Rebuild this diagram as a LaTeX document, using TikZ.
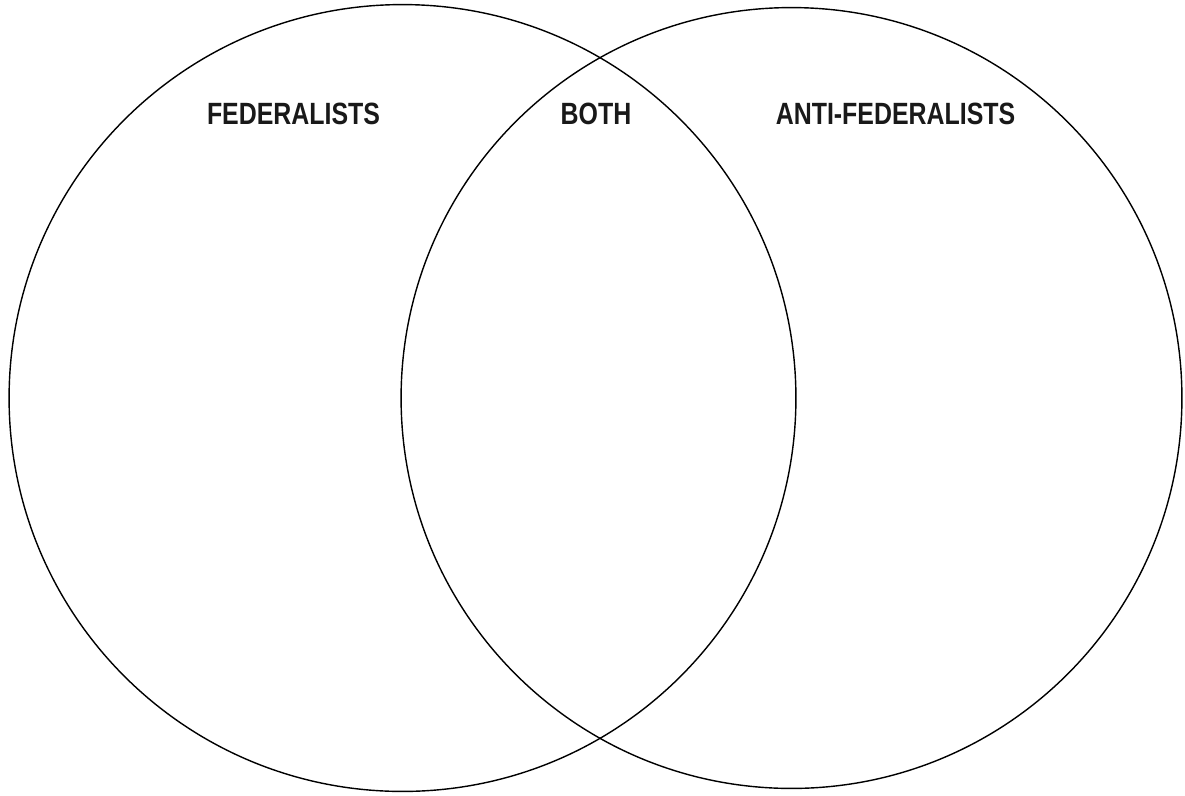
\documentclass[tikz,border=0pt]{standalone}
\usepackage{fontspec}
\setmainfont{Liberation Sans}
\usepackage{graphicx}
\usetikzlibrary{positioning}

\begin{document}
\begin{tikzpicture}[
  x=0.02cm, y=-0.02cm,
  every node/.style={font=\fontsize{17.5}{20}\selectfont\bfseries},
  ring/.style={circle, draw=black, line width=0.8pt, inner sep=0pt},
  heading/.style={anchor=base, inner sep=0pt, text=black!90},
]
\useasboundingbox (0,0) rectangle (1185,795);

% The two circles
\node[ring, minimum size=15.74cm] (fed) at (402.5,398) {};
\node[ring, minimum size=15.62cm] (anti) at (791.5,398) {};

% Headings
\node[heading] (fedlabel)  at (293.5,124) {\scalebox{0.81}[1]{FEDERALISTS}};
\node[heading] (bothlabel) at (596,124)   {\scalebox{0.81}[1]{BOTH}};
\node[heading] (antilabel) at (895.5,124) {\scalebox{0.81}[1]{ANTI-FEDERALISTS}};

\end{tikzpicture}
\end{document}
